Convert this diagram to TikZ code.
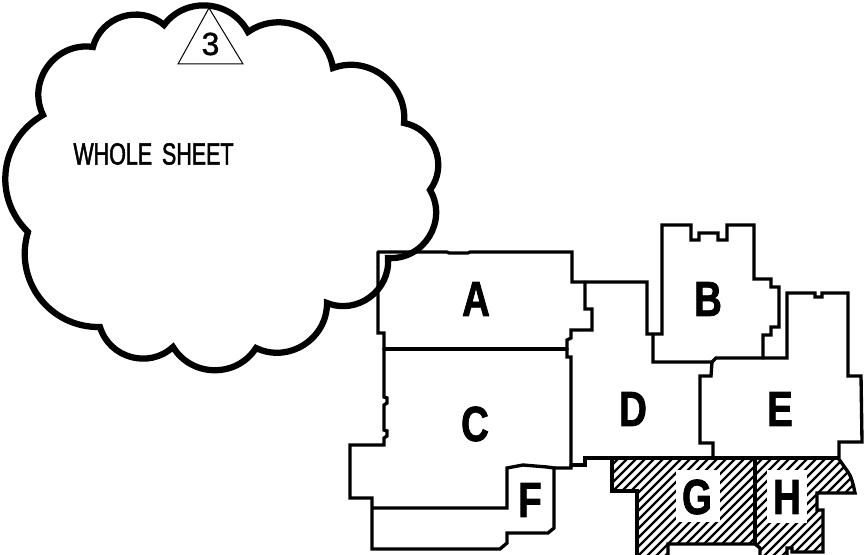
\documentclass[tikz,border=0pt]{standalone}
\usepackage{fontspec}
\setmainfont{Liberation Sans}
\newfontfamily\letterfont[FakeStretch=0.78,FakeBold=1.5]{Liberation Sans Bold}
\newfontfamily\notefont[FakeStretch=0.7,FakeBold=1.5]{Liberation Sans}
\newfontfamily\digitfont[FakeBold=1.2]{Liberation Sans}
\tikzset{
  wall/.style={line width=2.5pt,line join=miter,line cap=round},
  cloudline/.style={line width=4.7pt,line join=miter},
  hatchline/.style={line width=1.7pt},
  letter/.style={inner sep=0pt,font=\letterfont\fontsize{37}{37}\selectfont},
  note/.style={inner sep=0pt,font=\notefont\fontsize{23}{23}\selectfont},
  digit/.style={inner sep=0pt,font=\digitfont\fontsize{24}{24}\selectfont},
  arcb/.style={bend left=58,looseness=1.1}
}
\begin{document}
\begin{tikzpicture}[x=0.75pt,y=-0.75pt]
\useasboundingbox (0,0) rectangle (866,555);
\clip (0,0) rectangle (866,555);
% hatched area
\begin{scope}
\clip (612,458) -- (612,491) -- (637,491) -- (637,556) -- (668,556) -- (668,544) -- (755,544) -- (760,548) -- (760,556) -- (787,556) -- (787,548) -- (792,548) -- (792,552) -- (823,552) -- (823,510) -- (817,510) -- (817,493) -- (855,493) .. controls (853,483) and (851,476) .. (848,472) -- (841,462) -- (838,458) -- cycle;
\foreach \k in {0,...,33} { \draw[hatchline] (508+9*\k,560) -- ++(110,-110); }
\fill[white] (676,470) rectangle (720,522);
\fill[white] (767,470) rectangle (807,523);
\end{scope}
% outlines
\draw[wall] (612,458) -- (612,491) -- (637,491) -- (637,555);
\draw[wall] (668,555) -- (668,544) -- (755,544) -- (760,548) -- (760,555);
\draw[wall] (787,555) -- (787,548) -- (792,548) -- (792,552) -- (823,552) -- (823,510) -- (817,510) -- (817,493) -- (855,493) .. controls (853,483) and (851,476) .. (848,472) -- (841,462) -- (838,458);
\draw[wall] (755,458) -- (755,544);
% A, C, F outer
\draw[wall] (378,252) -- (447,252) -- (449,253) -- (468,253) -- (470,252) -- (572,252) -- (572,282) -- (647,282) -- (647,334) -- (662,334) -- (662,225) -- (691,225) -- (691,240) -- (699,240) -- (699,233) -- (718,233) -- (718,240) -- (727,240) -- (727,225) -- (754,225) -- (754,279) -- (771,279) -- (771,287) -- (779,287) -- (779,327) -- (771,327) -- (771,335) -- (763,335) -- (763,358);
\draw[wall] (378,252) -- (378,333) -- (384,333) -- (384,397) -- (387,398) -- (387,403) -- (384,405) -- (384,430) -- (387,431) -- (387,436) -- (384,438) -- (384,445) -- (350,445) -- (350,498) -- (372,498) -- (372,549) -- (500,549) -- (507,543) -- (507,533) -- (548,533) -- (554,528) -- (554,468) -- (547,467) -- (535,466) -- (523,465) -- (507,468) -- (507,508) -- (372,508);
\draw[wall] (384,349) -- (567,349);
\draw[wall] (554,468) -- (571,468) -- (571,357) -- (567,357) -- (567,340) -- (571,338) -- (571,330) -- (592,330) -- (592,309) -- (585,309) -- (585,282);
\draw[wall] (571,465) -- (585,465) -- (585,458) -- (838,458);
\draw[wall] (653,334) -- (653,362) -- (712,362) -- (716,358) -- (787,358) -- (787,293) -- (815,293) -- (815,297) -- (822,297) -- (822,293) -- (848,293) -- (848,376) -- (861,376) -- (862,442) -- (839,442) -- (839,458);
\draw[wall] (712,362) -- (711,376) -- (700,376) -- (700,443) -- (713,443) -- (713,458);
% cloud
\draw[cloudline] (164,25) to[arcb] (248,32) to[arcb] (333,68) to[arcb] (404,123) to[bend left=58,looseness=1.1] (430,190) to[bend left=62,looseness=1.15] (388,258) to[arcb] (327,303) to[arcb] (256,348) to[arcb] (173,347) to[arcb] (100,327) to[bend left=54,looseness=1.08] (28,232) to[bend left=53,looseness=1.08] (43,115) to[bend left=62,looseness=1.15] (93,47) to[arcb] cycle;
% triangle
\draw[line width=0.75pt] (209,8) -- (178,64) -- (243,64) -- cycle;
% labels
\node[digit] (num) at (210.5,44) {3};
\node[note] (sheet) at (153.5,154) {WHOLE\hspace{0.32em}SHEET};
\node[letter] (la) at (476,299) {A};
\node[letter] (lb) at (708,299) {B};
\node[letter] (lc) at (475,424) {C};
\node[letter] (ld) at (633,409) {D};
\node[letter] (le) at (780,409) {E};
\node[letter] (lf) at (530,500) {F};
\node[letter] (lg) at (697,497) {G};
\node[letter] (lh) at (787,497) {H};
\end{tikzpicture}
\end{document}
